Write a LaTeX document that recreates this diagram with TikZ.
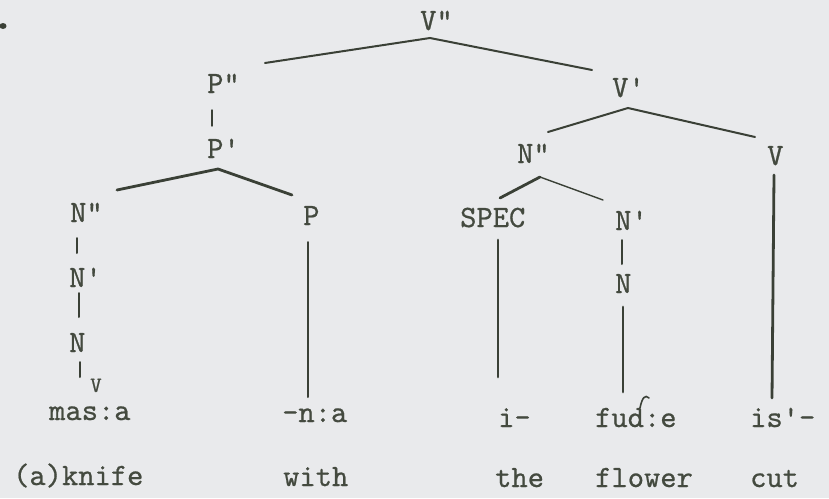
\documentclass[tikz,border=0pt]{standalone}
\usepackage{fontspec}
\newfontfamily\typewr{lmmono10-regular.otf}[FakeBold=0.6]
\usetikzlibrary{calc}
\definecolor{paper}{HTML}{E9EAEC}
\definecolor{ink}{HTML}{3A4036}
\definecolor{typeink}{HTML}{444A3F}
\begin{document}
\begin{tikzpicture}[x=1pt,y=-1pt,
  lbl/.style={inner sep=0pt,anchor=base west,text=typeink,font=\typewr\fontsize{31}{31}\selectfont},
  br/.style={draw=ink,line width=2pt,line cap=round},
  brthick/.style={draw=ink,line width=2.8pt,line cap=round},
  brthin/.style={draw=ink,line width=1.4pt,line cap=round}]
\fill[paper] (0,0) rectangle (829,498);
\useasboundingbox (0,0) rectangle (829,498);
% stray mark top-left
\fill[ink] (3,26) ellipse (3.5pt and 3pt);
% labels
\node[lbl] (Vpp) at (420,30) {V"};
\node[lbl] (Ppp) at (207,93) {P"};
\node[lbl] (Pp) at (207,158) {P'};
\node[lbl] (Vp) at (612,97) {V'};
\node[lbl] (Nppm) at (517,163) {N"};
\node[lbl] (Vr) at (767,165) {V};
\node[lbl] (Nppl) at (70,222) {N"};
\node[lbl] (Pl) at (303,225) {P};
\node[lbl] (Npl) at (69,287) {N'};
\node[lbl] (Nl) at (69,352) {N};
\node[lbl] (masa) at (49,420) {mas:a};
\node[lbl,font=\typewr\fontsize{22}{22}\selectfont] (hacek) at (90,392) {V};
\node[lbl] (na) at (282,422) {-n:a};
\node[lbl] (knife) at (13,485) {(a)knife};
\node[lbl] (with) at (283,486) {with};
\node[lbl] (spec) at (460,227) {SPEC};
\node[lbl] (Npr) at (615,230) {N'};
\node[lbl] (Nr) at (615,293) {N};
\node[lbl] (i) at (498,427) {i-};
\node[lbl] (fude) at (595,427) {fud:e};
\node[lbl] (is) at (750,427) {is'-};
\node[lbl] (the) at (495,487) {the};
\node[lbl] (flower) at (595,487) {flower};
\node[lbl] (cut) at (750,487) {cut};
% branch points and ends
\coordinate (aVpp) at (430,38);
\coordinate (eVppL) at (265,63);
\coordinate (eVppR) at (592,70);
\coordinate (aVp) at (628,108);
\coordinate (eVpL) at (548,132);
\coordinate (eVpR) at (755,137);
\coordinate (aPp) at (218,169);
\coordinate (ePpL) at (117,190);
\coordinate (ePpR) at (292,195);
\coordinate (aNppm) at (540,177);
\coordinate (eNppmL) at (500,198);
\coordinate (eNppmR) at (603,200);
% connectors
\draw[br] (eVppL) -- (aVpp) -- (eVppR);
\draw[br] (eVpL) -- (aVp) -- (eVpR);
\draw[brthick] (ePpL) -- (aPp) -- (ePpR);
\draw[brthick] (eNppmL) -- (aNppm);
\draw[brthin] (aNppm) -- (eNppmR);
\draw[brthin] (212,110) -- (212,126);
\draw[br] (77,238) -- (77,253);
\draw[br] (79,293) -- (79,317);
\draw[br] (80,362) -- (80,377);
\draw[br] (308,242) -- (308,397);
\draw[brthick] (498,240) -- (498,377);
\draw[br] (622,240) -- (622,264);
\draw[brthick] (623,307) -- (623,392);
\draw[brthick] (774,175) -- (772,398);
% hand mark over d
\draw[ink,line width=1.6pt,line cap=round] (640,408) .. controls (642,398) and (645,394) .. (649,398);
\end{tikzpicture}
\end{document}
